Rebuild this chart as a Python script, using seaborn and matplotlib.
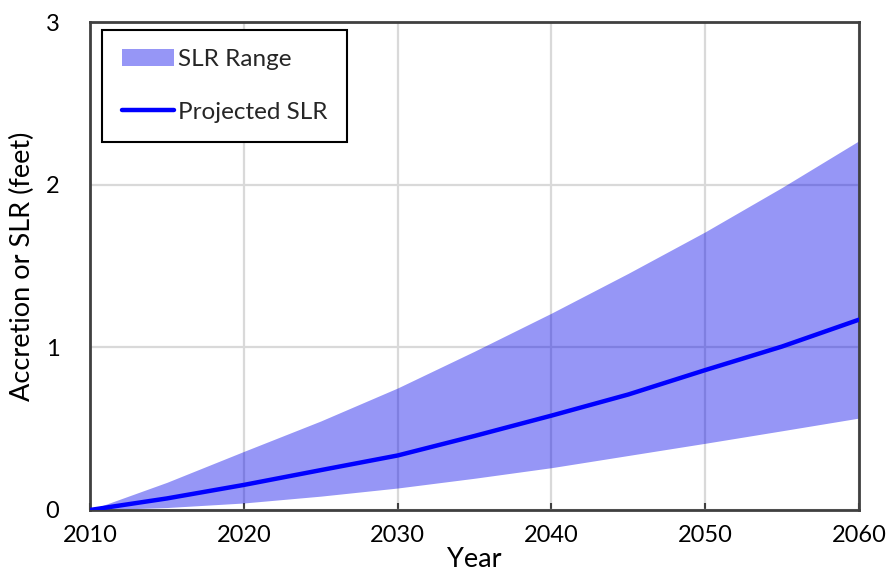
import matplotlib
matplotlib.use("Agg")
import matplotlib.pyplot as plt
import seaborn as sns
import pandas as pd

# Sea level rise projection (feet) by year
years = [2010, 2015, 2020, 2025, 2030, 2035, 2040, 2045, 2050, 2055, 2060]
slr_projected = [0.0, 0.071, 0.154, 0.245, 0.335, 0.455, 0.58, 0.71, 0.86, 1.005, 1.17]
slr_low = [0.0, 0.015, 0.043, 0.085, 0.135, 0.195, 0.26, 0.335, 0.41, 0.487, 0.565]
slr_high = [0.0, 0.17, 0.36, 0.547, 0.75, 0.976, 1.21, 1.455, 1.71, 1.983, 2.27]

x_ticks = [2010, 2020, 2030, 2040, 2050, 2060]
y_ticks = [0, 1, 2, 3]

df = pd.DataFrame({"Year": years, "Projected": slr_projected,
                   "Low": slr_low, "High": slr_high})

sns.set_theme(style="whitegrid")
plt.rcParams["font.family"] = ["Lato", "DejaVu Sans"]

fig = plt.figure(figsize=(8.86, 5.70), dpi=100)
ax = fig.add_axes([0.1016, 0.1053, 0.8679, 0.8561])

ax.fill_between(df["Year"], df["Low"], df["High"], color=(0.0, 0.0, 0.92),
                alpha=0.41, linewidth=0, label="SLR Range", zorder=2)
sns.lineplot(data=df, x="Year", y="Projected", ax=ax, color="#0000ff",
             linewidth=3.2, label="Projected SLR", zorder=3)

ax.set_xlim(2010, 2060)
ax.set_ylim(0, 3)
ax.set_xticks(x_ticks)
ax.set_yticks(y_ticks)
ax.grid(True, color="#d9d9d9", linewidth=1.6, zorder=1)
ax.set_axisbelow(True)

for side in ["left", "right", "top", "bottom"]:
    ax.spines[side].set_visible(True)
    ax.spines[side].set_color("#404040")
    ax.spines[side].set_linewidth(2.0)

ax.tick_params(axis="both", direction="in", length=5, width=1.5,
               color="#404040", labelsize=17, labelcolor="black")
ax.tick_params(axis="x", pad=11, bottom=True)
ax.tick_params(axis="y", pad=22, left=False)

ax.set_xlabel("Year", fontsize=19.5, color="black")
ax.set_ylabel("Accretion or SLR (feet)", fontsize=19.5, color="black")
ax.xaxis.set_label_coords(0.5, -0.075)
ax.yaxis.set_label_coords(-0.072, 0.5)

leg = ax.legend(loc="upper left", bbox_to_anchor=(0.016, 0.984), fontsize=17.5,
                frameon=True, fancybox=False, edgecolor="black",
                framealpha=1, borderpad=0.8, labelspacing=1.3,
                handlelength=2.15, handletextpad=0.15, borderaxespad=0)
leg.get_frame().set_linewidth(1.5)

fig.savefig("out.png", dpi=100)
